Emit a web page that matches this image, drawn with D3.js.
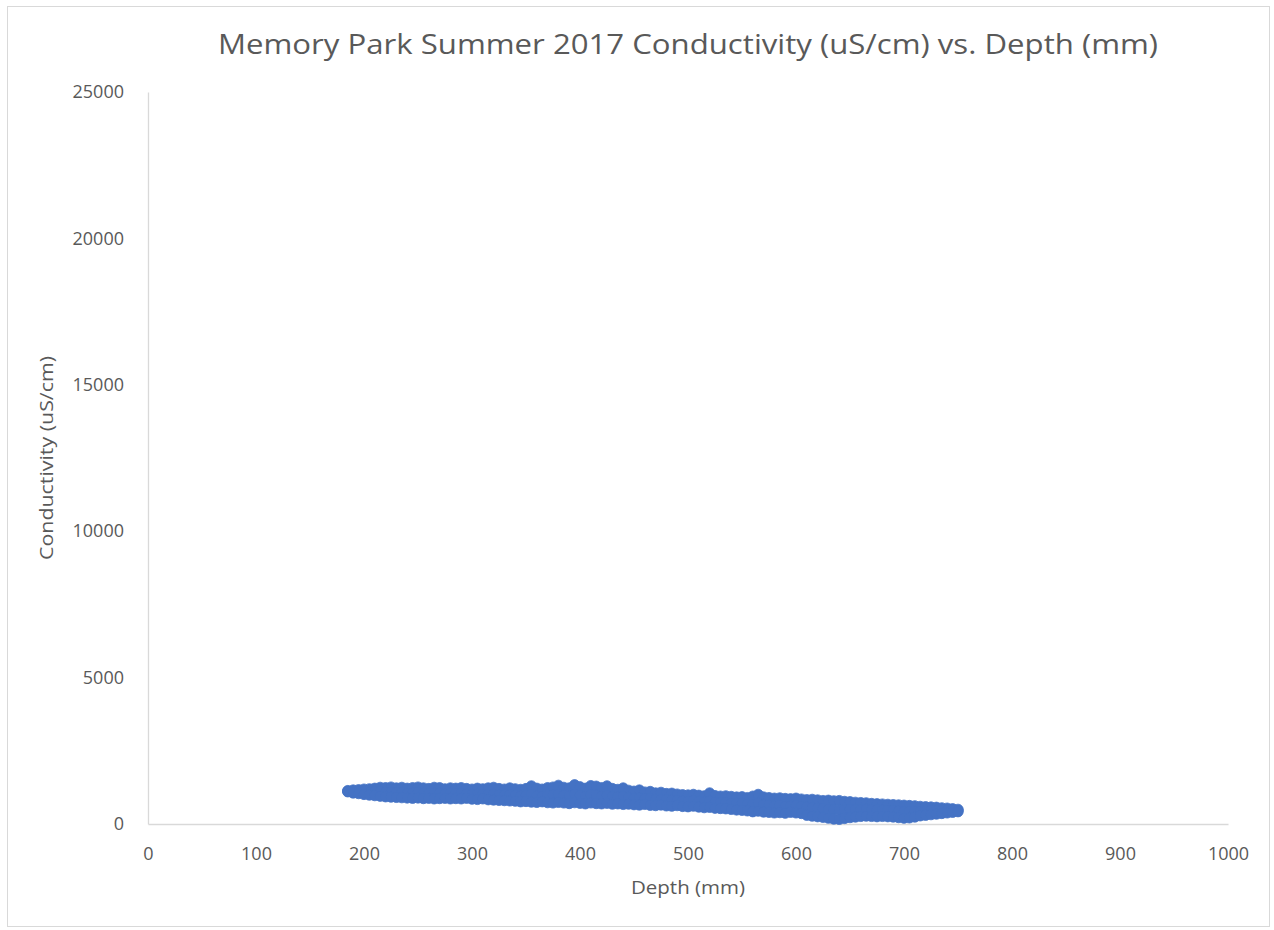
<!DOCTYPE html>
<html lang="en">
<head>
    <meta charset="UTF-8"/>
    <title>Memory Park Conductivity vs Depth</title>
    <script src="https://d3js.org/d3.v7.min.js"></script>
    <style>
        body { margin: 0; background: #fff; }
        text { font-family: "Open Sans", sans-serif; fill: #595959; }
        .axis text { font-size: 18px; fill: #595959; }
        .axis .domain { stroke: #d9d9d9; stroke-width: 1.3; }
    </style>
</head>
<body>
    <script>
        // depth (mm), 5 mm steps
        var depths = [
            185, 190, 195, 200, 205, 210, 215, 220, 225, 230,
            235, 240, 245, 250, 255, 260, 265, 270, 275, 280,
            285, 290, 295, 300, 305, 310, 315, 320, 325, 330,
            335, 340, 345, 350, 355, 360, 365, 370, 375, 380,
            385, 390, 395, 400, 405, 410, 415, 420, 425, 430,
            435, 440, 445, 450, 455, 460, 465, 470, 475, 480,
            485, 490, 495, 500, 505, 510, 515, 520, 525, 530,
            535, 540, 545, 550, 555, 560, 565, 570, 575, 580,
            585, 590, 595, 600, 605, 610, 615, 620, 625, 630,
            635, 640, 645, 650, 655, 660, 665, 670, 675, 680,
            685, 690, 695, 700, 705, 710, 715, 720, 725, 730,
            735, 740, 745, 750
        ];

        // conductivity (uS/cm): top edge of the cloud
        var condUpper = [
            1140, 1160, 1170, 1190, 1200, 1220, 1250, 1240, 1260, 1230,
            1250, 1220, 1240, 1260, 1230, 1210, 1250, 1240, 1200, 1230,
            1220, 1240, 1210, 1190, 1220, 1200, 1230, 1250, 1210, 1190,
            1230, 1200, 1180, 1210, 1300, 1220, 1190, 1240, 1260, 1320,
            1250, 1230, 1340, 1270, 1220, 1310, 1290, 1240, 1300, 1210,
            1180, 1230, 1150, 1120, 1160, 1090, 1110, 1060, 1080, 1040,
            1050, 1020, 1000, 990, 1010, 980, 960, 1060, 970, 950,
            960, 940, 920, 930, 900, 950, 1010, 920, 900, 880,
            890, 870, 860, 880, 850, 830, 840, 820, 800, 810,
            790, 800, 770, 760, 740, 730, 720, 700, 690, 680,
            670, 660, 650, 640, 630, 620, 600, 590, 580, 570,
            550, 540, 520, 500
        ];

        // middle of the cloud
        var condMid = [
            1120, 1110, 1100, 1100, 1090, 1100, 1110, 1090, 1080, 1070,
            1080, 1050, 1060, 1080, 1050, 1040, 1060, 1050, 1030, 1040,
            1050, 1040, 1030, 1020, 1030, 1020, 1010, 1030, 990, 980,
            1000, 970, 960, 980, 1010, 960, 950, 970, 990, 1020,
            980, 960, 1020, 980, 950, 1000, 990, 950, 980, 930,
            920, 940, 900, 880, 890, 860, 870, 840, 850, 830,
            820, 810, 790, 780, 800, 770, 750, 790, 740, 730,
            730, 710, 690, 700, 670, 680, 720, 660, 650, 620,
            640, 610, 620, 630, 600, 580, 560, 540, 520, 500,
            490, 480, 490, 500, 490, 500, 510, 500, 490, 480,
            470, 460, 440, 420, 430, 440, 440, 450, 450, 450,
            460, 460, 460, 460
        ];

        // bottom edge of the cloud
        var condLower = [
            1100, 1060, 1040, 1010, 990, 970, 950, 930, 920, 910,
            900, 890, 880, 890, 870, 880, 860, 870, 880, 860,
            870, 860, 880, 850, 840, 860, 830, 820, 810, 800,
            790, 780, 760, 770, 750, 740, 760, 730, 720, 740,
            720, 700, 730, 710, 690, 720, 700, 690, 710, 680,
            690, 670, 680, 660, 650, 670, 640, 630, 650, 620,
            610, 630, 600, 590, 610, 580, 560, 570, 540, 530,
            520, 500, 480, 470, 450, 420, 440, 410, 400, 380,
            390, 370, 400, 380, 360, 300, 270, 250, 230, 200,
            170, 160, 190, 220, 240, 260, 270, 260, 250, 260,
            250, 240, 220, 200, 210, 240, 280, 300, 320, 340,
            360, 380, 400, 420
        ];

        var xTicks = [0, 100, 200, 300, 400, 500, 600, 700, 800, 900, 1000];
        var yTicks = [0, 5000, 10000, 15000, 20000, 25000];

        var w = 1274;
        var h = 930;
        var plotLeft = 148, plotRight = 1228, plotTop = 92, plotBottom = 824;

        var svg = d3.select("body")
            .append("svg")
            .attr("width", w)
            .attr("height", h);

        // outer chart border
        svg.append("rect")
            .attr("x", 7.5)
            .attr("y", 6.5)
            .attr("width", 1262)
            .attr("height", 920)
            .attr("fill", "#fff")
            .attr("stroke", "#d9d9d9")
            .attr("stroke-width", 1);

        var xScale = d3.scaleLinear()
            .domain([0, 1000])
            .range([plotLeft, plotRight]);

        var yScale = d3.scaleLinear()
            .domain([0, 25000])
            .range([plotBottom, plotTop]);

        svg.append("g")
            .attr("class", "axis")
            .attr("transform", "translate(" + plotLeft + ",0)")
            .call(d3.axisLeft(yScale).tickValues(yTicks).tickSize(0).tickPadding(24).tickFormat(d3.format("d")))
            .call(function(g) { g.select(".domain").attr("stroke", "#e6e6e6"); });

        svg.append("g")
            .attr("class", "axis")
            .attr("transform", "translate(0," + plotBottom + ")")
            .call(d3.axisBottom(xScale).tickValues(xTicks).tickSize(0).tickPadding(23).tickFormat(d3.format("d")));

        // flatten the three rows into one list of points
        var points = [];
        [condUpper, condMid, condLower].forEach(function(row) {
            row.forEach(function(v, i) {
                points.push({ depth: depths[i], cond: v });
            });
        });

        svg.append("g")
            .selectAll("circle")
            .data(points)
            .enter()
            .append("circle")
            .attr("cx", function(d) { return xScale(d.depth); })
            .attr("cy", function(d) { return yScale(d.cond); })
            .attr("r", 5.2)
            .attr("fill", "#4472c4")
            .attr("stroke", "#4472c4")
            .attr("stroke-width", 0.8);

        // title
        svg.append("text")
            .attr("x", (plotLeft + plotRight) / 2)
            .attr("y", 54)
            .attr("text-anchor", "middle")
            .attr("textLength", 940)
            .attr("lengthAdjust", "spacingAndGlyphs")
            .style("font-size", "27px")
            .text("Memory Park Summer 2017 Conductivity (uS/cm) vs. Depth (mm)");

        // X axis label
        svg.append("text")
            .attr("x", (plotLeft + plotRight) / 2)
            .attr("y", 894)
            .attr("text-anchor", "middle")
            .attr("textLength", 114)
            .attr("lengthAdjust", "spacingAndGlyphs")
            .style("font-size", "18px")
            .text("Depth (mm)");

        // Y axis label
        svg.append("text")
            .attr("transform", "translate(53," + ((plotTop + plotBottom) / 2) + ") rotate(-90)")
            .attr("text-anchor", "middle")
            .attr("textLength", 204)
            .attr("lengthAdjust", "spacingAndGlyphs")
            .style("font-size", "18px")
            .text("Conductivity (uS/cm)");
    </script>
</body>
</html>
